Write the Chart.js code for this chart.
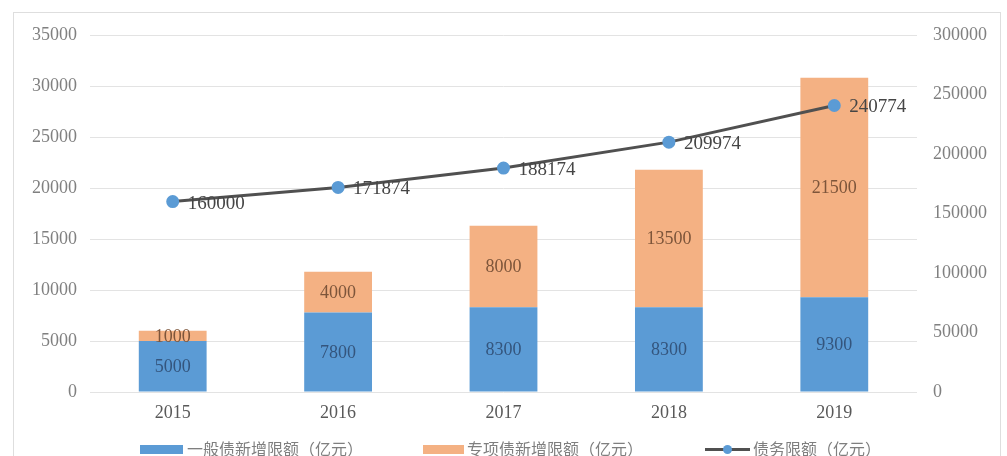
<!DOCTYPE html>
<html>
<head>
  <meta charset="utf-8">
  <title>地方债限额</title>
  <script src="https://cdn.jsdelivr.net/npm/chart.js@4"></script>
  <style>
    html, body { margin: 0; padding: 0; background: #fff; }
    #wrap { position: relative; width: 1007px; height: 456px; overflow: hidden; }
    #frame { position: absolute; left: 13px; top: 12px; width: 986px; height: 470px; border: 1px solid #dedede; }
    #canvas { position: absolute; left: 0; top: 0; }
    .legend { position: absolute; top: 438px; left: 0; height: 20px; font: 16px "Noto Sans CJK SC", sans-serif; color: #7f7f7f; white-space: nowrap; }
    .legend span { position: absolute; top: 0; line-height: 20px; }
    .legend i { position: absolute; display: block; }
  </style>
</head>
<body>
<div id="wrap">
  <div id="frame"></div>
  <canvas id="canvas" width="1007" height="456"></canvas>
  <!-- legend -->
  <div class="legend">
    <i style="left:140px;top:7px;width:43px;height:9px;background:#5b9bd5"></i>
    <span style="left:187px">一般债新增限额（亿元）</span>
    <i style="left:423px;top:7px;width:41px;height:9px;background:#f4b183"></i>
    <span style="left:467px">专项债新增限额（亿元）</span>
    <i style="left:705px;top:10px;width:45px;height:3px;background:#505050"></i>
    <i style="left:723px;top:7px;width:9px;height:9px;border-radius:50%;background:#5b9bd5"></i>
    <span style="left:753px">债务限额（亿元）</span>
  </div>
</div>
<script>
var years = ['2015', '2016', '2017', '2018', '2019'];
var generalNew = [5000, 7800, 8300, 8300, 9300];
var specialNew = [1000, 4000, 8000, 13500, 21500];
var debtLimit = [160000, 171874, 188174, 209974, 240774];
var leftTicks = [0, 5000, 10000, 15000, 20000, 25000, 30000, 35000];
var rightTicks = [0, 50000, 100000, 150000, 200000, 250000, 300000];

var serif = 'Liberation Serif';

// labels on bars and line points
var valueLabels = {
  id: 'valueLabels',
  afterDatasetsDraw: function(chart) {
    var ctx = chart.ctx;
    ctx.save();
    chart.data.datasets.forEach(function(ds, i) {
      var meta = chart.getDatasetMeta(i);
      meta.data.forEach(function(el, j) {
        var v = ds.data[j];
        ctx.textBaseline = 'middle';
        if (ds.type === 'line') {
          ctx.font = '19px "' + serif + '"';
          ctx.fillStyle = '#454545';
          ctx.textAlign = 'left';
          ctx.fillText(v, el.x + 15, el.y + 2);
        } else {
          var p = el.getProps(['x', 'y', 'base'], true);
          ctx.font = '18px "' + serif + '"';
          ctx.fillStyle = ds.labelColor;
          ctx.textAlign = 'center';
          ctx.fillText(v, p.x, (p.y + p.base) / 2 + 1);
        }
      });
    });
    ctx.restore();
  }
};

function plain(v) { return String(v); }

var config = {
  type: 'bar',
  data: {
    labels: years,
    datasets: [{
      label: '一般债新增限额（亿元）',
      data: generalNew,
      backgroundColor: '#5b9bd5',
      labelColor: '#34557d',
      yAxisID: 'y',
      order: 1
    }, {
      label: '专项债新增限额（亿元）',
      data: specialNew,
      backgroundColor: '#f4b183',
      labelColor: '#7d553a',
      yAxisID: 'y',
      order: 1
    }, {
      type: 'line',
      label: '债务限额（亿元）',
      data: debtLimit,
      borderColor: '#505050',
      borderWidth: 3,
      pointRadius: 5,
      pointBackgroundColor: '#5b9bd5',
      pointBorderColor: '#5b9bd5',
      yAxisID: 'y1',
      order: 0
    }]
  },
  options: {
    responsive: false,
    animation: false,
    layout: { padding: { top: 35, bottom: 24, left: 0, right: 0 } },
    datasets: { bar: { barPercentage: 0.82, categoryPercentage: 0.5 } },
    plugins: {
      legend: { display: false },
      tooltip: { enabled: false }
    },
    scales: {
      x: {
        stacked: true,
        grid: { display: false },
        border: { display: false },
        ticks: { color: '#595959', font: { family: serif, size: 18 }, padding: 2 },
        afterFit: function(s) { s.height = 40; }
      },
      y: {
        stacked: true,
        min: 0, max: 35000,
        afterBuildTicks: function(s) { s.ticks = leftTicks.map(function(v) { return { value: v }; }); },
        grid: { color: '#e3e3e3', drawTicks: false },
        border: { display: false },
        ticks: { color: '#808080', font: { family: serif, size: 18 }, padding: 13, callback: plain },
        afterFit: function(s) { s.width = 90; }
      },
      y1: {
        position: 'right',
        min: 0, max: 300000,
        afterBuildTicks: function(s) { s.ticks = rightTicks.map(function(v) { return { value: v }; }); },
        grid: { display: false },
        border: { display: false },
        ticks: { color: '#808080', font: { family: serif, size: 18 }, padding: 8, callback: plain },
        afterFit: function(s) { s.width = 90; }
      }
    }
  },
  plugins: [valueLabels]
};

window.myChart = new Chart(document.getElementById('canvas'), config);
</script>
</body>
</html>
